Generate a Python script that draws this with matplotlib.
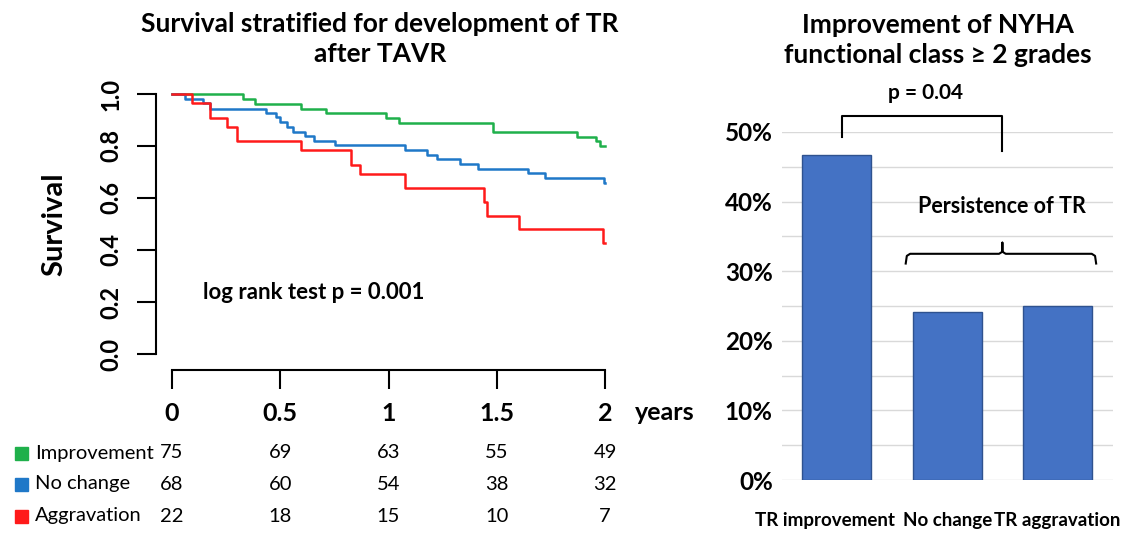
import numpy as np
import matplotlib
matplotlib.use("Agg")
import matplotlib.pyplot as plt
from matplotlib.patches import Rectangle
from matplotlib.transforms import blended_transform_factory, ScaledTranslation

plt.rcParams['font.family'] = ['Lato', 'DejaVu Sans']

# Kaplan-Meier steps (time in years, survival)
green_t = [0, 0.327, 0.383, 0.596, 0.711, 0.988, 1.050, 1.484, 1.872, 1.958, 1.977, 2.0]
green_s = [1.0, 0.980, 0.961, 0.942, 0.926, 0.906, 0.890, 0.853, 0.836, 0.820, 0.800, 0.800]

blue_t = [0, 0.060, 0.145, 0.176, 0.434, 0.480, 0.499, 0.530, 0.560, 0.614, 0.656,
          0.753, 1.076, 1.176, 1.222, 1.330, 1.415, 1.646, 1.723, 1.995, 2.0]
blue_s = [1.0, 0.980, 0.964, 0.942, 0.926, 0.910, 0.894, 0.875, 0.855, 0.838, 0.820,
          0.803, 0.785, 0.765, 0.749, 0.731, 0.713, 0.695, 0.676, 0.659, 0.659]

red_t = [0, 0.091, 0.176, 0.256, 0.299, 0.596, 0.827, 0.868, 1.076, 1.443, 1.457, 1.605, 1.993, 2.0]
red_s = [1.0, 0.964, 0.906, 0.872, 0.819, 0.785, 0.727, 0.692, 0.640, 0.586, 0.532, 0.480, 0.426, 0.426]

# numbers at risk
risk_times = [0, 0.5, 1, 1.5, 2]
risk_groups = ["Improvement", "No change", "Aggravation"]
risk_improvement = [75, 69, 63, 55, 49]
risk_nochange = [68, 60, 54, 38, 32]
risk_aggravation = [22, 18, 15, 10, 7]

# NYHA improvement bars
bar_labels = ["TR improvement", "No change", "TR aggravation"]
bar_values = [46.7, 24.2, 25.0]

GREEN = '#1fb04b'
BLUE = '#1f78c8'
RED = '#ff1a1a'
W, H = 1129, 534

fig = plt.figure(figsize=(W / 100, H / 100), dpi=100)

# ---- left: survival curves ----
ax1 = fig.add_axes([172 / W, 180 / H, 433 / W, 260 / H])
for t, s, c in [(green_t, green_s, GREEN), (blue_t, blue_s, BLUE), (red_t, red_s, RED)]:
    ax1.step(t, s, where='post', color=c, lw=1.8, clip_on=False)
ax1.set_xlim(0, 2)
ax1.set_ylim(0, 1)
for side in ['top', 'right']:
    ax1.spines[side].set_visible(False)
ax1.spines['left'].set_position(('outward', 11.5))
ax1.spines['bottom'].set_position(('outward', 11.5))
ax1.spines['left'].set_bounds(0, 1)
ax1.spines['bottom'].set_bounds(0, 2)
for side in ['left', 'bottom']:
    ax1.spines[side].set_linewidth(1.5)
ax1.set_xticks(risk_times)
ax1.set_xticklabels(['0', '0.5', '1', '1.5', '2'], fontweight='bold', fontsize=18)
yt = [0, 0.2, 0.4, 0.6, 0.8, 1.0]
ax1.set_yticks(yt)
ax1.set_yticklabels([f'{v:.1f}' for v in yt], rotation=90, va='center', fontweight='bold', fontsize=17)
ax1.tick_params(axis='both', direction='out', length=14, width=1.5)
ax1.tick_params(axis='x', pad=9)
ax1.tick_params(axis='y', pad=10)
ax1.set_ylabel('Survival', fontsize=21, fontweight='bold')
ax1.yaxis.set_label_coords(-0.2425, 0.5)
ax1.text(0.143, 0.236, 'log rank test p = 0.001', fontsize=16, fontweight='bold', va='center')

fig.text(665 / W, 1 - 412 / H, 'years', fontsize=18, fontweight='bold', ha='center', va='center')
fig.text(380 / W, 1 - 39 / H, 'Survival stratified for development of TR\nafter TAVR',
         fontsize=19, fontweight='bold', ha='center', va='center', linespacing=1.27)

# risk table
trans = blended_transform_factory(ax1.transData, fig.transFigure)
rows_y = [453, 484, 516]
for name, counts, c, yy in zip(risk_groups, [risk_improvement, risk_nochange, risk_aggravation],
                               [GREEN, BLUE, RED], rows_y):
    fy = 1 - yy / H
    fig.add_artist(Rectangle((15 / W, fy - 6.5 / H), 13 / W, 13 / H, color=c, transform=fig.transFigure))
    fig.text(35 / W, fy, name, fontsize=14.5, va='center', ha='left')
    for t, n in zip(risk_times, counts):
        ax1.text(t, fy, str(n), transform=trans, fontsize=14.5, ha='center', va='center')

# ---- right: NYHA bars ----
ax2 = fig.add_axes([781.7 / W, 54 / H, 331 / W, 348 / H])
x = np.arange(len(bar_values))
ax2.bar(x, bar_values, width=0.625, color='#4472c4', edgecolor='#2f528f', lw=1, zorder=2)
ax2.set_xlim(-0.5, 2.5)
ax2.set_ylim(0, 50)
ax2.set_yticks(np.arange(0, 51, 10))
ax2.set_yticks(np.arange(5, 50, 10), minor=True)
ax2.set_yticklabels([f'{v}%' for v in range(0, 51, 10)], fontweight='bold')
ax2.grid(axis='y', which='both', color='#d9d9d9', lw=1, zorder=0)
ax2.set_axisbelow(True)
for sp in ax2.spines.values():
    sp.set_visible(False)
ax2.set_xticks(x)
ax2.set_xticklabels(bar_labels, fontweight='bold')
ax2.tick_params(axis='y', which='both', length=0, labelsize=17.5, pad=6.5)
ax2.tick_params(axis='x', length=0, labelsize=13.5, pad=23)
# spread the first label a little, as in the original
for lab, dx in zip(ax2.get_xticklabels(), [-12, 0, 0]):
    lab.set_transform(lab.get_transform() + ScaledTranslation(dx / 100, 0, fig.dpi_scale_trans))

# p-value bracket between bar 0 and the two persistence bars
bx0, bx1 = x[0] + 0.045, (x[1] + x[2]) / 2
ax2.plot([bx0, bx0, bx1, bx1], [49.3, 52.3, 52.3, 47.3], color='black', lw=1.5, clip_on=False)
ax2.text((bx0 + bx1) / 2 + 0.03, 55.6, 'p = 0.04', fontsize=15, fontweight='bold', ha='center', va='center')

# brace over persistence bars
bl, br, bm = x[1] - 0.376, x[2] + 0.35, (x[1] + x[2]) / 2
brace_x = [bl, bl + 0.01, bl + 0.04, bm - 0.03, bm, bm, bm, bm + 0.03, br - 0.04, br - 0.01, br]
brace_y = [31.1, 32.2, 32.5, 32.5, 32.8, 34.1, 32.8, 32.5, 32.5, 32.2, 31.1]
ax2.plot(brace_x, brace_y, color='black', lw=1.5, clip_on=False)
ax2.text(bm, 39.3, 'Persistence of TR', fontsize=15.5, fontweight='bold', ha='center', va='center')

fig.text(938 / W, 1 - 40 / H, 'Improvement of NYHA\nfunctional class \u2265 2 grades',
         fontsize=19, fontweight='bold', ha='center', va='center', linespacing=1.27)

fig.savefig('out.png', dpi=100)
